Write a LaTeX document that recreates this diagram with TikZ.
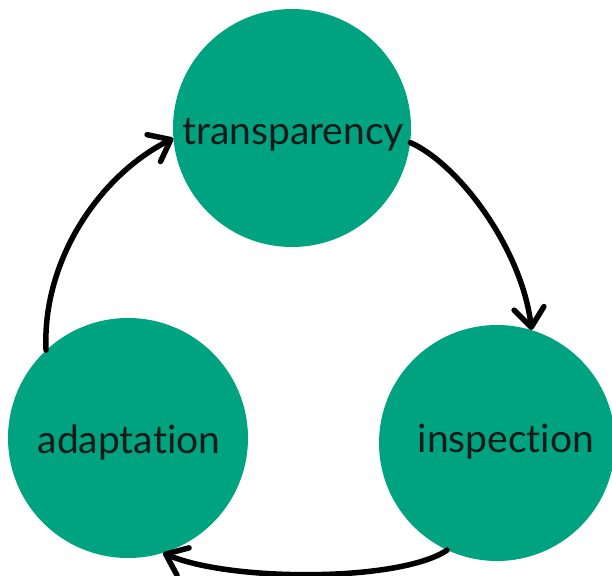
\documentclass[tikz,border=0pt]{standalone}
\usepackage{fontspec}
\setmainfont[Ligatures={NoCommon,NoRequired,NoContextual}]{Lato}
\usetikzlibrary{arrows.meta}
\definecolor{scrumgreen}{HTML}{00A37F}
\tikzset{
  bubble/.style={circle, fill=scrumgreen, draw=none, inner sep=0pt},
  lbl/.style={font=\fontsize{39}{45}\selectfont, text=black!90, inner sep=0pt},
  flow/.style={line width=5.5pt, line cap=round, line join=round,
    -{Straight Barb[length=19pt,width=30pt,line cap=round,line join=round]}}
}
\begin{document}
\begin{tikzpicture}[x=1pt,y=-1pt]
\useasboundingbox (0,0) rectangle (612,575);
\node[bubble, minimum size=238pt] (top) at (292,128) {};
\node[bubble, minimum size=240pt] (left) at (128,438) {};
\node[bubble, minimum size=236pt] (right) at (497,443) {};
\node[lbl] (ttop) at (293,135) {transparency};
\node[lbl] (tleft) at (129,442) {adaptation};
\node[lbl] (tright) at (506,442) {inspection};
\draw[flow] (left.133) .. controls (42,260) and (100,175) .. (top.185);
\draw[flow] (top.-7) .. controls (460,165) and (522,250) .. (right.73);
\draw[flow] (right.245) .. controls (400,582) and (230,582) .. (left.-73);
\end{tikzpicture}
\end{document}
